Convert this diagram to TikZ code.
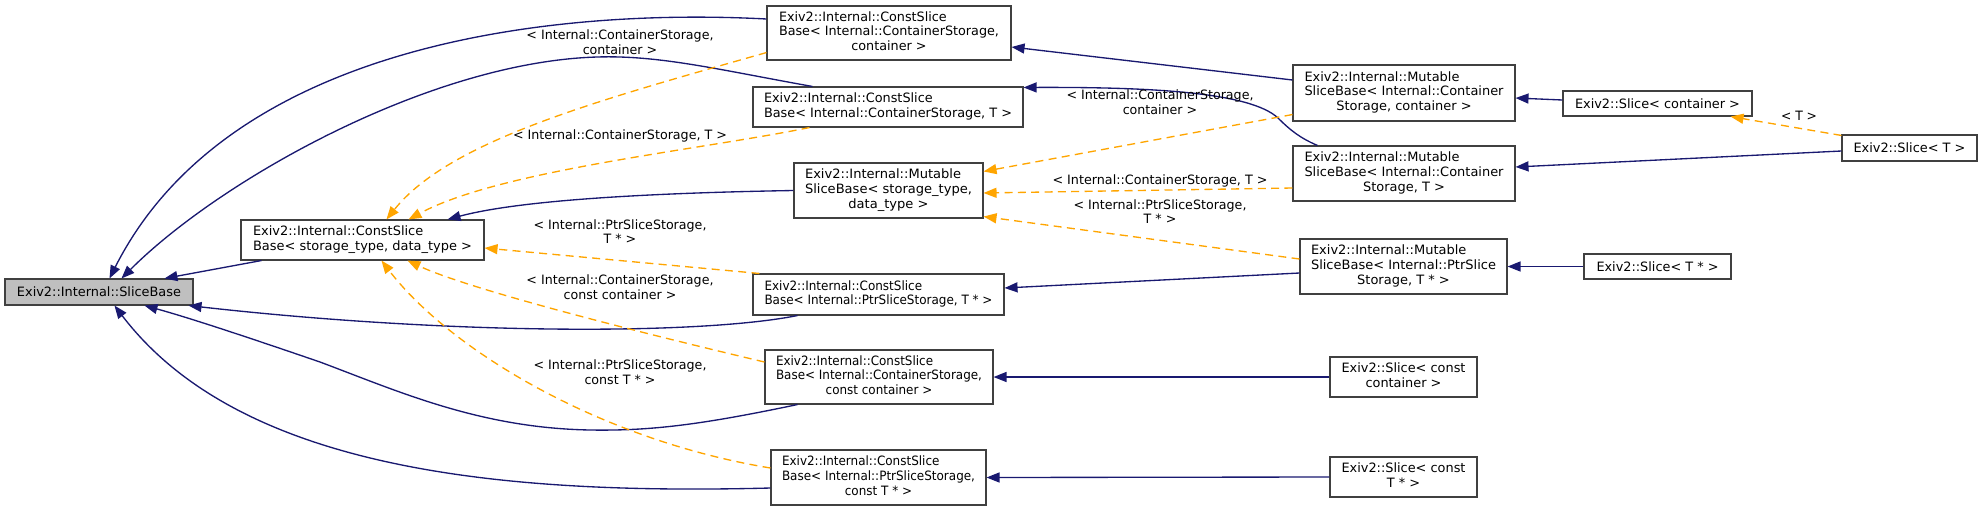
\documentclass[tikz,border=0pt]{standalone}
\usepackage{fontspec}
\usepackage{graphicx}
\setmainfont{DejaVu Sans}
\usetikzlibrary{arrows.meta,calc}
\definecolor{edgeblue}{HTML}{191970}
\definecolor{edgeorange}{HTML}{FFA500}
\definecolor{boxline}{HTML}{404040}
\definecolor{basefill}{HTML}{BFBFBF}
\newcommand\fitw[2]{\resizebox{#1}{\height}{#2}}
\newcommand\twolines[2]{\begin{tabular}{@{}l@{}}#1\\\multicolumn{1}{@{}c@{}}{#2}\end{tabular}}
\newcommand\threelines[3]{\begin{tabular}{@{}l@{}}#1\\#2\\\multicolumn{1}{@{}c@{}}{#3}\end{tabular}}
\newcommand\clines[1]{\begin{tabular}{@{}c@{}}#1\end{tabular}}
\begin{document}
\begin{tikzpicture}[x=0.75pt,y=-0.75pt,
 every node/.style={font=\fontsize{9.65}{11}\selectfont},
 box/.style={draw=boxline, line width=0.8pt, fill=white, inner sep=0pt, anchor=center},
 inh/.style={draw=edgeblue, line width=1pt, -{Triangle[length=9.75pt,width=7.5pt]}},
 tmpl/.style={draw=edgeorange, line width=1pt, dash pattern=on 6pt off 4pt, -{Triangle[length=9.75pt,width=7.5pt]}},
 lab/.style={inner sep=0pt}]
\useasboundingbox (0,0) rectangle (1983,511);

% nodes
\node[box, fill=basefill, minimum width=141pt, minimum height=19.5pt] (sb) at (99,292) {\fitw{123pt}{Exiv2::Internal::SliceBase}};
\node[box, minimum width=182.25pt, minimum height=30pt] (csbg) at (362.5,240) {\fitw{164.25pt}{\twolines{Exiv2::Internal::ConstSlice}{Base< storage\_type, data\_type >}}};
\node[box, minimum width=183pt, minimum height=40.5pt] (csbcc) at (889,33) {\fitw{165pt}{\threelines{Exiv2::Internal::ConstSlice}{Base< Internal::ContainerStorage,}{container >}}};
\node[box, minimum width=202.5pt, minimum height=30pt] (csbct) at (888,107) {\fitw{186pt}{\twolines{Exiv2::Internal::ConstSlice}{Base< Internal::ContainerStorage, T >}}};
\node[box, minimum width=141.75pt, minimum height=41.25pt] (msbg) at (888.5,190.5) {\fitw{125.25pt}{\threelines{Exiv2::Internal::Mutable}{SliceBase< storage\_type,}{data\_type >}}};
\node[box, minimum width=188.25pt, minimum height=30.75pt] (csbpt) at (878.5,294.5) {\fitw{171pt}{\twolines{Exiv2::Internal::ConstSlice}{Base< Internal::PtrSliceStorage, T * >}}};
\node[box, minimum width=171pt, minimum height=40.5pt] (csbccc) at (879,377) {\fitw{154.5pt}{\threelines{Exiv2::Internal::ConstSlice}{Base< Internal::ContainerStorage,}{const container >}}};
\node[box, minimum width=161.25pt, minimum height=41.25pt] (csbpct) at (878.5,477.5) {\fitw{144.75pt}{\threelines{Exiv2::Internal::ConstSlice}{Base< Internal::PtrSliceStorage,}{const T * >}}};
\node[box, minimum width=166.5pt, minimum height=42pt] (mcc) at (1404,93) {\fitw{149.25pt}{\threelines{Exiv2::Internal::Mutable}{SliceBase< Internal::Container}{Storage, container >}}};
\node[box, minimum width=166.5pt, minimum height=41.25pt] (mct) at (1404,173.5) {\fitw{149.25pt}{\threelines{Exiv2::Internal::Mutable}{SliceBase< Internal::Container}{Storage, T >}}};
\node[box, minimum width=155.25pt, minimum height=41.25pt] (mpt) at (1403.5,266.5) {\fitw{138.75pt}{\threelines{Exiv2::Internal::Mutable}{SliceBase< Internal::PtrSlice}{Storage, T * >}}};
\node[box, minimum width=141.75pt, minimum height=18.75pt] (scont) at (1657.5,103.5) {\fitw{123.75pt}{Exiv2::Slice< container >}};
\node[box, minimum width=101.25pt, minimum height=19.5pt] (st) at (1909.5,148) {\fitw{84pt}{Exiv2::Slice< T >}};
\node[box, minimum width=110.25pt, minimum height=18.75pt] (stp) at (1657.5,266.5) {\fitw{91.5pt}{Exiv2::Slice< T * >}};
\node[box, minimum width=110.25pt, minimum height=30pt] (scc) at (1403.5,377) {\fitw{93pt}{\twolines{Exiv2::Slice< const}{container >}}};
\node[box, minimum width=110.25pt, minimum height=30pt] (scpt) at (1403.5,477) {\fitw{93pt}{\twolines{Exiv2::Slice< const}{T * >}}};

% inheritance edges
\draw[inh] ($(csbg.south west)+(21,0)$) -- ($(sb.north west)+(160,0)$);
\draw[inh] ($(csbcc.west)+(0,-14)$) .. controls (560,8) and (230,40) .. ($(sb.north west)+(105,0)$);
\draw[inh] ($(csbct.north west)+(60,0)$) .. controls (720,70) and (660,55) .. (597,57) .. controls (430,62) and (220,180) .. ($(sb.north west)+(117,0)$);
\draw[inh] (msbg.west) .. controls (650,193) and (520,200) .. ($(csbg.north east)+(-37,0)$);
\draw[inh] ($(csbpt.south west)+(45,0)$) .. controls (700,335) and (450,335) .. ($(sb.south east)+(-5,0)$);
\draw[inh] ($(csbccc.south west)+(33,0)$) .. controls (700,425) and (650,431) .. (590,430) .. controls (480,428) and (400,392) .. (320,362) .. controls (250,338) and (190,318) .. ($(sb.south west)+(140,0)$);
\draw[inh] ($(csbpct.west)+(0,10.5)$) .. controls (500,495) and (240,470) .. ($(sb.south west)+(110,0)$);
\draw[inh] ($(mcc.west)+(0,-13)$) -- ($(csbcc.east)+(0,14)$);
\draw[inh] ($(mct.north west)+(25,0)$) .. controls (1300,138) and (1290,130) .. (1278,118) .. controls (1250,92) and (1150,87) .. ($(csbct.north east)+(0,1)$);
\draw[inh] ($(mpt.west)+(0,6.5)$) -- ($(csbpt.east)+(0,-6.5)$);
\draw[inh] ($(scont.west)+(0,-3.5)$) -- ($(mcc.east)+(0,5)$);
\draw[inh] ($(st.west)+(0,3)$) -- ($(mct.east)+(0,-6.5)$);
\draw[inh] (stp.west) -- (mpt.east);
\draw[inh] (scc.west) -- (csbccc.east);
\draw[inh] (scpt.west) -- (csbpct.east);

% template edges
\draw[tmpl] ($(csbcc.south west)+(0,-8)$) .. controls (600,100) and (450,140) .. ($(csbg.north west)+(146,0)$);
\draw[tmpl] ($(csbct.south west)+(57,0)$) .. controls (700,150) and (500,170) .. ($(csbg.north west)+(168,0)$);
\draw[tmpl] ($(mcc.south west)+(0,-7)$) -- ($(msbg.north east)+(0,9)$);
\draw[tmpl] ($(mct.west)+(0,14.5)$) -- ($(msbg.east)+(0,2.5)$);
\draw[tmpl] ($(mpt.west)+(0,-7.5)$) -- ($(msbg.south east)+(0,-2)$);
\draw[tmpl] ($(csbpt.north west)+(7,0)$) -- ($(csbg.east)+(0,8)$);
\draw[tmpl] ($(csbccc.west)+(0,-15)$) .. controls (650,335) and (470,290) .. ($(csbg.south west)+(167,0)$);
\draw[tmpl] ($(csbpct.west)+(0,-9.5)$) .. controls (600,440) and (450,350) .. ($(csbg.south west)+(141,0)$);
\draw[tmpl] ($(st.north west)+(0,1)$) -- ($(scont.south east)+(-22,0)$);

% labels
\node[lab] (l1) at (620,44) {\fitw{140.25pt}{\clines{< Internal::ContainerStorage,\\container >}}};
\node[lab] (l2) at (620,136) {\fitw{160.5pt}{< Internal::ContainerStorage, T >}};
\node[lab] (l3) at (1160,104) {\fitw{140.25pt}{\clines{< Internal::ContainerStorage,\\container >}}};
\node[lab] (l4) at (1160,181) {\fitw{161.25pt}{< Internal::ContainerStorage, T >}};
\node[lab] (l5) at (1160,213.5) {\fitw{129.75pt}{\clines{< Internal::PtrSliceStorage,\\T * >}}};
\node[lab] (l6) at (620,233.5) {\fitw{129.75pt}{\clines{< Internal::PtrSliceStorage,\\T * >}}};
\node[lab] (l7) at (620,289) {\fitw{140.25pt}{\clines{< Internal::ContainerStorage,\\const container >}}};
\node[lab] (l8) at (620,374) {\fitw{129.75pt}{\clines{< Internal::PtrSliceStorage,\\const T * >}}};
\node[lab] (l9) at (1799,116) {\fitw{27pt}{< T >}};
\end{tikzpicture}
\end{document}
